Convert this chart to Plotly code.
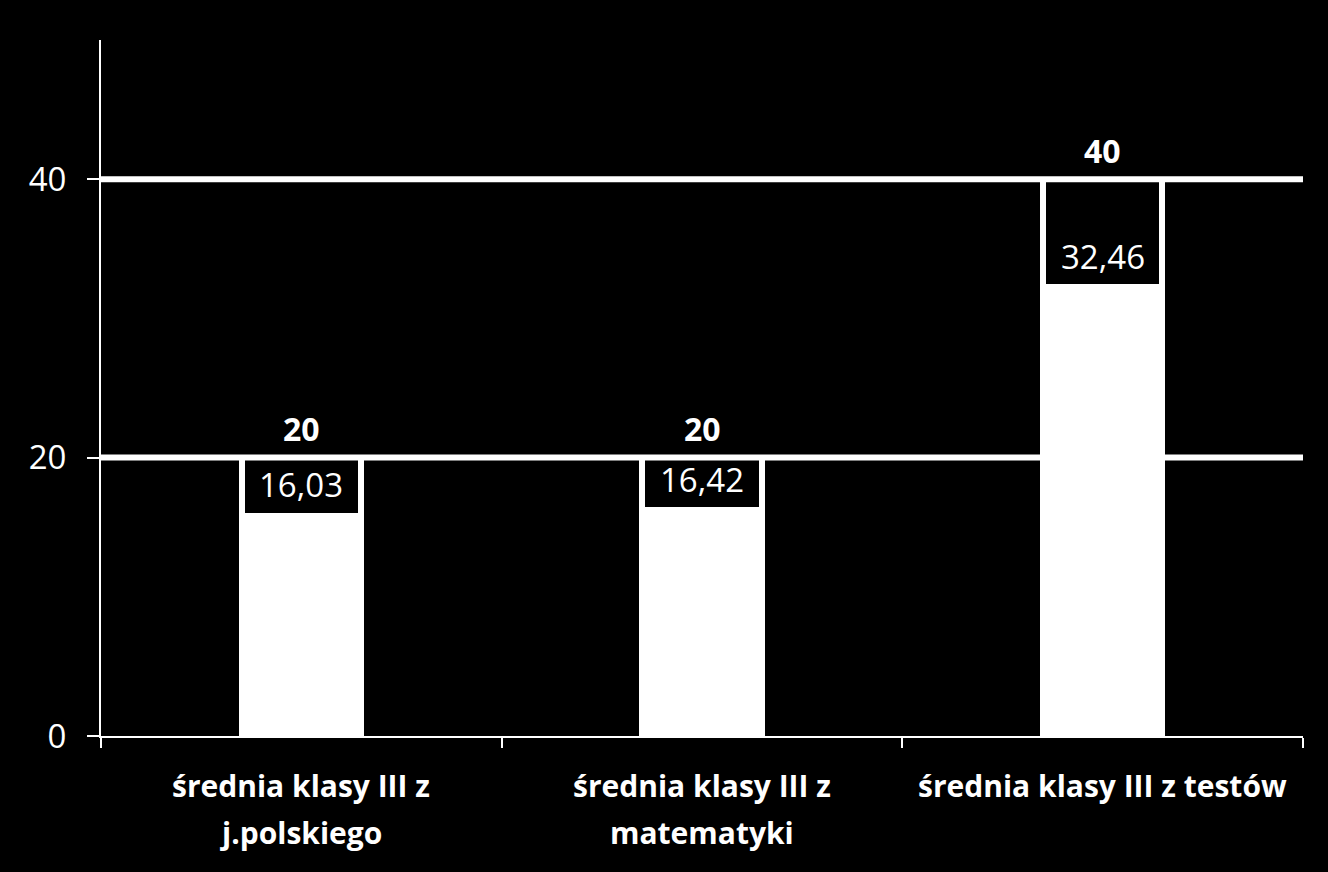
import plotly.graph_objects as go

categories = ["średnia klasy III z j.polskiego", "średnia klasy III z matematyki", "średnia klasy III z testów"]
category_lines = [["średnia klasy III z", "j.polskiego"], ["średnia klasy III z", "matematyki"], ["średnia klasy III z testów"]]
max_points = [20, 20, 40]
averages = [16.03, 16.42, 32.46]
y_ticks = [0, 20, 40]
grid_values = [20, 40]

def pl(v):
    return f"{v:.2f}".replace(".", ",")

FONT = "Open Sans"
fig = go.Figure()
fig.add_trace(go.Bar(x=categories, y=max_points, width=0.3125,
                     marker=dict(color="white", line=dict(width=0)), hoverinfo="skip"))
fig.add_trace(go.Bar(x=categories, y=[m - a for m, a in zip(max_points, averages)], base=averages,
                     width=0.2825, marker=dict(color="black", line=dict(width=0)), hoverinfo="skip"))

for g in grid_values:
    fig.add_shape(type="line", xref="paper", x0=0, x1=1, yref="y", y0=g, y1=g,
                  line=dict(color="white", width=6), layer="above")

for c, m, a in zip(categories, max_points, averages):
    fig.add_annotation(x=c, y=m, text=f"<b>{m}</b>", showarrow=False, yanchor="middle", yshift=29,
                       font=dict(family=FONT, size=32, color="white"))
    fig.add_annotation(x=c, y=a, text=pl(a), showarrow=False, yanchor="middle", yshift=28,
                       font=dict(family=FONT, size=33, color="white"))

for c, lines in zip(categories, category_lines):
    for i, ln in enumerate(lines):
        fig.add_annotation(x=c, xref="x", y=0, yref="paper", text=f"<b>{ln}</b>", showarrow=False,
                           yanchor="middle", yshift=-49 - 47 * i,
                           font=dict(family=FONT, size=30, color="white"))

fig.update_layout(
    width=1328, height=872,
    paper_bgcolor="black", plot_bgcolor="black",
    margin=dict(l=101, r=25, t=40, b=136),
    barmode="overlay", bargap=0, showlegend=False,
    font=dict(family=FONT, color="white"),
    xaxis=dict(type="category", range=[-0.5, 2.5], tickson="boundaries", ticks="outside",
               ticklen=10, tickwidth=2, tickcolor="white", showline=True, linecolor="white",
               linewidth=2, showgrid=False, showticklabels=False, zeroline=False),
    yaxis=dict(range=[0, 50], tickvals=y_ticks, ticktext=[str(t) for t in y_ticks],
               ticks="outside", ticklen=12, tickwidth=2, tickcolor="white", showline=True,
               linecolor="white", linewidth=2, showgrid=False, zeroline=False,
               tickfont=dict(family=FONT, size=33, color="white"), ticklabelstandoff=14),
)
fig.write_html("out.html", config={"displayModeBar": False},
               post_script="document.body.style.margin='0';document.body.style.background='black';")
